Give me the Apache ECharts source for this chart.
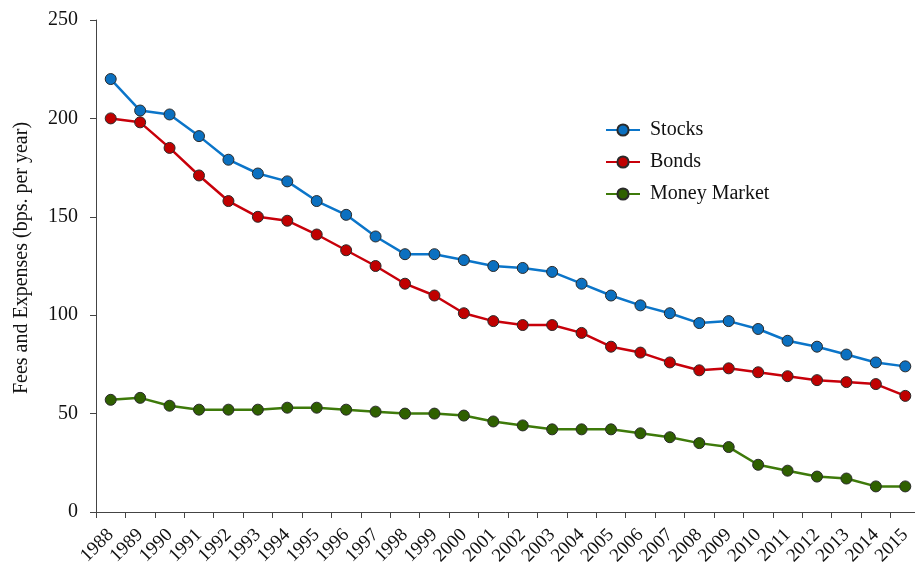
<!DOCTYPE html>
<html>
<head>
<meta charset="utf-8">
<script src="https://cdn.jsdelivr.net/npm/echarts@6/dist/echarts.min.js"></script>
<style>html,body{margin:0;padding:0;background:#fff;}#c{width:915px;height:565px;}</style>
</head>
<body>
<div id="c"></div>
<script>
const years = ['1988','1989','1990','1991','1992','1993','1994','1995','1996','1997','1998','1999','2000','2001','2002','2003','2004','2005','2006','2007','2008','2009','2010','2011','2012','2013','2014','2015'];
const stocks = [220,204,202,191,179,172,168,158,151,140,131,131,128,125,124,122,116,110,105,101,96,97,93,87,84,80,76,74];
const bonds = [200,198,185,171,158,150,148,141,133,125,116,110,101,97,95,95,91,84,81,76,72,73,71,69,67,66,65,59];
const money = [57,58,54,52,52,52,53,53,52,51,50,50,49,46,44,42,42,42,40,38,35,33,24,21,18,17,13,13];
const yTicks = [0,50,100,150,200,250];

const font = '"Liberation Serif", "Times New Roman", serif';
const chart = echarts.init(document.getElementById('c'), null, {renderer:'canvas'});
function mk(name, data, line, fill){
  return {
    name, type:'line', data,
    symbol:'circle', symbolSize:11,
    lineStyle:{color:line, width:2.5},
    itemStyle:{color:fill, borderColor:'#2a2a2a', borderWidth:1},
    emphasis:{disabled:true},
    animation:false
  };
}
chart.setOption({
  backgroundColor:'#fff',
  animation:false,
  grid:{left:96, width:824, top:20, height:492, containLabel:false, outerBoundsMode:'none'},
  legend:{
    orient:'vertical', left:600, top:115,
    itemWidth:34, itemHeight:14, itemGap:12,
    textStyle:{fontFamily:font, fontSize:20, color:'#111', padding:[0,0,0,5]},
    data:['Stocks','Bonds','Money Market']
  },
  xAxis:{
    type:'category', data:years, boundaryGap:true,
    axisLine:{lineStyle:{color:'#444', width:1}},
    axisTick:{show:true, length:6, alignWithLabel:false, lineStyle:{color:'#444'}},
    axisLabel:{rotate:45, fontFamily:font, fontSize:19, color:'#111', margin:20, interval:0}
  },
  yAxis:{
    type:'value', min:yTicks[0], max:yTicks[yTicks.length-1], interval:50,
    name:'Fees and Expenses (bps. per year)', nameLocation:'middle', nameGap:64, nameRotate:90,
    nameTextStyle:{fontFamily:font, fontSize:20, color:'#111', padding:[0,0,0,16]},
    axisLine:{show:true, lineStyle:{color:'#444', width:1}},
    axisTick:{show:true, length:6, lineStyle:{color:'#444'}},
    splitLine:{show:false},
    axisLabel:{fontFamily:font, fontSize:20, color:'#111', margin:18}
  },
  series:[
    mk('Stocks', stocks, '#0B75C9', '#0B70C0'),
    mk('Bonds', bonds, '#C8000A', '#C00000'),
    mk('Money Market', money, '#3E7A0A', '#2F6000')
  ]
});
</script>
</body>
</html>
